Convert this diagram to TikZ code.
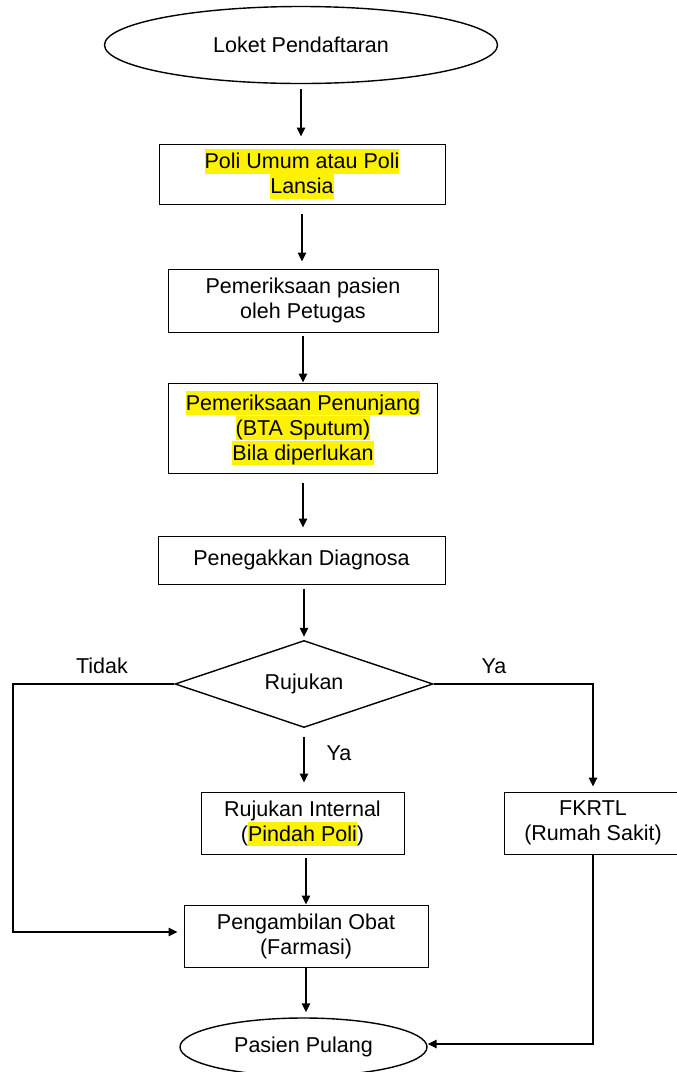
\documentclass[tikz,border=0pt]{standalone}
\usepackage{fontspec}
\setmainfont{Liberation Sans}
\usetikzlibrary{shapes.geometric,arrows.meta,calc}
% yellow text highlight, one box per line, ascender to descender
\newcommand\hlt[1]{{\setlength{\fboxsep}{0pt}\colorbox{yellow}{\rule[-0.212em]{0pt}{1.117em}#1}}}

\begin{document}
\begin{tikzpicture}[x=1pt,y=-1pt,
  txt/.style={font=\fontsize{21.5}{25}\selectfont},
  procbox/.style={txt, draw, line width=1pt, rectangle, inner sep=0pt, align=center},
  terminal/.style={txt, draw, line width=1.4pt, ellipse, inner sep=0pt},
  decision/.style={txt, draw, line width=1.4pt, diamond, inner sep=0pt},
  flow/.style={line width=1.5pt, -{Triangle[length=9pt,width=8.5pt]}},
  lbl/.style={txt, inner sep=0pt}]
\clip (0,0) rectangle (677,1072);

% main column
\node[terminal, minimum width=393pt, minimum height=77pt] (start) at (301,45) {Loket Pendaftaran};
\node[procbox, minimum width=286pt, minimum height=60pt] (b2) at (302,174)
  {\hlt{Poli Umum atau Poli}\\\hlt{Lansia}};
\node[procbox, minimum width=270pt, minimum height=63pt] (b3) at (303,300.5)
  {Pemeriksaan pasien\\oleh Petugas};
\node[procbox, minimum width=269pt, minimum height=90pt] (b4) at (303,428)
  {\hlt{Pemeriksaan Penunjang}\\\hlt{(BTA Sputum)}\\\hlt{Bila diperlukan}};
\node[procbox, minimum width=287pt, minimum height=48pt] (b5) at (301.5,560)
  {Penegakkan Diagnosa};
\node[decision, shape aspect=2.97, minimum width=258pt, minimum height=87pt] (dia) at (304,684)
  {Rujukan};
\node[procbox, minimum width=203pt, minimum height=62pt] (b6) at (302.5,823)
  {Rujukan Internal\\(\hlt{Pindah Poli})};
\node[procbox, minimum width=178pt, minimum height=62pt] (b7) at (593,823)
  {FKRTL\\(Rumah Sakit)};
\node[procbox, minimum width=244pt, minimum height=62pt] (b8) at (306,936)
  {Pengambilan Obat\\(Farmasi)};
\node[terminal, minimum width=247pt, minimum height=58pt] (finish) at (303.5,1047) {Pasien Pulang};

% branch labels
\node[lbl] (tidak) at (102,666) {Tidak};
\node[lbl] (yaright) at (494,666) {Ya};
\node[lbl] (yadown) at (339,753) {Ya};

% turning points of the side connectors
\coordinate (tl) at (13,684);
\coordinate (bl) at (13,932);
\coordinate (rb) at (593,1044);

% straight connectors
\draw[flow, shorten <=5pt, shorten >=7pt] (start.south) -- (start.south |- b2.north);
\draw[flow, shorten <=9pt, shorten >=7pt] (b2.south) -- (b2.south |- b3.north);
\draw[flow, shorten <=3pt] (b3.south) -- (b3.south |- b4.north);
\draw[flow, shorten <=9pt, shorten >=8pt] (b4.south) -- (b4.south |- b5.north);
\draw[flow, shorten <=4pt, shorten >=3pt] (dia.north |- b5.south) -- (dia.north);
\draw[flow, shorten <=9pt, shorten >=9pt] (dia.south) -- (dia.south |- b6.north);
\draw[flow, shorten <=3pt] (b8.north |- b6.south) -- (b8.north);
\draw[flow, shorten >=5pt] (b8.south) -- (b8.south |- finish.north);

% side connectors
\draw[flow, shorten >=6pt] (dia.west) -- (tl) -- (bl) -- (bl -| b8.west);
\draw[flow, shorten >=5pt] (dia.east) -| (b7.north);
\draw[flow] (b7.south) -- (rb) -- (rb -| finish.east);
\end{tikzpicture}
\end{document}
